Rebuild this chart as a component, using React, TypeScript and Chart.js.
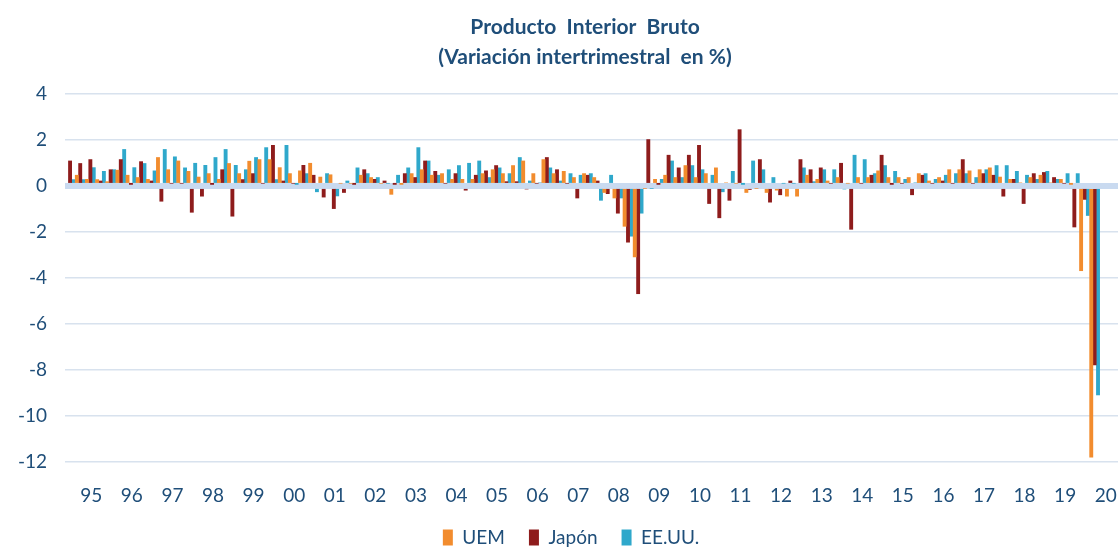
import React, { useEffect, useRef } from 'react';
import { Chart, registerables } from 'chart.js';

Chart.register(...registerables);

const years = ['95','96','97','98','99','00','01','02','03','04','05','06','07','08','09','10','11','12','13','14','15','16','17','18','19','20'];
const quarterNames = ['T1','T2','T3','T4'];

const uem = [
  null, 0.48, 0.3, 0.29,
  0.2, 0.7, 0.48, 0.38,
  0.3, 1.25, 0.72, 1.1,
  0.65, 0.4, 0.55, 0.3,
  0.99, 0.55, 1.09, 1.16,
  1.16, 0.81, 0.55, 0.67,
  1.0, 0.4, 0.5, 0.1,
  0.1, 0.48, 0.38, 0.1,
  -0.38, 0.05, 0.55, 0.72,
  0.48, 0.55, 0.3, 0.3,
  0.3, 0.55, 0.72, 0.55,
  0.9, 1.1, 0.55, 1.16,
  0.55, 0.65, 0.38, 0.55,
  0.38, -0.3, -0.54, -1.77,
  -3.1, -0.1, 0.3, 0.48,
  0.38, 0.9, 0.38, 0.55,
  0.8, 0.15, 0.1, -0.3,
  -0.1, -0.3, -0.2, -0.46,
  -0.46, 0.48, 0.3, 0.23,
  0.38, 0.1, 0.38, 0.38,
  0.67, 0.38, 0.38, 0.38,
  0.55, 0.23, 0.38, 0.72,
  0.72, 0.67, 0.72, 0.8,
  0.4, 0.3, 0.15, 0.38,
  0.48, 0.15, 0.3, 0.05,
  -3.7, -11.8,
];

const japon = [
  1.1, 0.99, 1.16, 0.23,
  0.72, 1.16, 0.05, 1.07,
  0.23, -0.68, 0.1, 0.1,
  -1.16, -0.46, 0.05, 0.72,
  -1.33, 0.29, 0.55, 0.1,
  1.78, 0.23, 0.1, 0.91,
  0.48, -0.5, -1.0, -0.3,
  0.05, 0.72, 0.3, 0.23,
  0.05, 0.55, 0.38, 1.1,
  0.65, 0.1, 0.55, -0.2,
  0.48, 0.67, 0.9, 0.2,
  0.2, -0.15, 0.1, 1.25,
  0.72, 0.1, -0.54, 0.48,
  0.23, -0.35, -1.2, -2.46,
  -4.7, 2.03, 0.05, 1.35,
  0.8, 1.35, 1.78, -0.78,
  -1.4, -0.64, 2.46, -0.17,
  1.16, -0.72, -0.4, 0.23,
  1.16, 0.72, 0.8, 0.1,
  1.0, -1.9, 0.1, 0.48,
  1.35, 0.05, 0.1, -0.4,
  0.48, 0.1, 0.23, 0.1,
  1.16, 0.1, 0.55, 0.48,
  -0.46, 0.3, -0.78, 0.55,
  0.6, 0.38, 0.1, -1.8,
  -0.6, -7.8,
];

const eeuu = [
  0.29, 0.29, 0.81, 0.65,
  0.72, 1.6, 0.81, 0.99,
  0.67, 1.6, 1.28, 0.8,
  1.0, 0.91, 1.25, 1.6,
  0.91, 0.72, 1.25, 1.68,
  0.29, 1.78, 0.05, 0.55,
  -0.27, 0.55, -0.45, 0.23,
  0.8, 0.55, 0.38, 0.1,
  0.48, 0.8, 1.68, 1.1,
  0.48, 0.72, 0.9, 1.0,
  1.1, 0.38, 0.8, 0.55,
  1.25, 0.23, 0.15, 0.8,
  0.23, 0.55, 0.48, 0.55,
  -0.64, 0.48, -0.54, -2.2,
  -1.2, -0.1, 0.3, 1.1,
  0.38, 0.9, 0.72, 0.48,
  -0.27, 0.65, 0.05, 1.1,
  0.72, 0.38, 0.1, 0.1,
  0.8, 0.2, 0.72, 0.72,
  -0.15, 1.35, 1.16, 0.55,
  0.9, 0.65, 0.3, 0.15,
  0.55, 0.3, 0.48, 0.55,
  0.55, 0.38, 0.72, 0.9,
  0.9, 0.65, 0.48, 0.3,
  0.65, 0.3, 0.55, 0.55,
  -1.3, -9.1,
];

const seriesNames = ['UEM', 'Japón', 'EE.UU.'];
const seriesColors = ['#F28C2E', '#8E1C1C', '#2FA8CB'];
const titleLines = ['Producto  Interior  Bruto', '(Variación intertrimestral  en %)'];
const yMin = -12;
const yMax = 4;
const yStep = 2;

const textColor = '#1F4E79';
const fontFamily = 'Lato, "Open Sans", sans-serif';

const legendShift = {
  id: 'legendShift',
  afterLayout(chart: any) {
    const l = chart.legend;
    if (l) {
      l.left -= 14;
      l.right -= 14;
    }
  },
};

export default function App() {
  const canvasRef = useRef<HTMLCanvasElement | null>(null);

  useEffect(() => {
    const canvas = canvasRef.current;
    if (!canvas) return;
    const quarters = years.flatMap((y) => quarterNames.map((q) => `${y} ${q}`));
    const chart = new Chart(canvas, {
      type: 'bar',
      data: {
        labels: quarters,
        datasets: [
          { label: seriesNames[0], data: uem, backgroundColor: seriesColors[0], xAxisID: 'x', yAxisID: 'y' },
          { label: seriesNames[1], data: japon, backgroundColor: seriesColors[1], xAxisID: 'x', yAxisID: 'y' },
          { label: seriesNames[2], data: eeuu, backgroundColor: seriesColors[2], xAxisID: 'x', yAxisID: 'y' },
        ],
      },
      plugins: [legendShift],
      options: {
        responsive: false,
        animation: false,
        datasets: {
          bar: { categoryPercentage: 1.0, barPercentage: 1.15, borderWidth: 0 },
        },
        layout: { padding: 0 },
        plugins: {
          title: {
            display: true,
            text: titleLines,
            color: textColor,
            font: { family: fontFamily, size: 21, weight: 'bold', lineHeight: 1.45 },
            padding: { top: 12, bottom: 21 },
          },
          legend: {
            display: true,
            position: 'bottom',
            labels: {
              color: textColor,
              font: { family: fontFamily, size: 19 },
              boxWidth: 10,
              boxHeight: 16,
              padding: 24,
            },
          },
          tooltip: { enabled: false },
        },
        scales: {
          x: {
            type: 'category',
            display: false,
            offset: true,
          },
          years: {
            type: 'category',
            labels: years,
            position: 'bottom',
            offset: true,
            grid: { display: false, drawTicks: true, tickLength: 26 },
            border: { display: false },
            ticks: {
              color: textColor,
              font: { family: fontFamily, size: 19 },
              autoSkip: false,
              maxRotation: 0,
              padding: -3.4,
              labelOffset: 6,
            },
          },
          y: {
            type: 'linear',
            position: 'left',
            min: yMin,
            max: yMax,
            afterFit: (s: any) => { s.width = 65; },
            grid: {
              drawTicks: false,
              color: (ctx: any) => (ctx.tick && ctx.tick.value === 0 ? '#C9DAF0' : '#D8E2EE'),
              lineWidth: (ctx: any) => (ctx.tick && ctx.tick.value === 0 ? 6 : 1.5),
            },
            border: { display: false },
            ticks: {
              stepSize: yStep,
              color: textColor,
              font: { family: fontFamily, size: 19 },
              padding: 18,
            },
          },
          yRight: {
            type: 'linear',
            position: 'right',
            display: true,
            afterFit: (s: any) => { s.width = 50; },
            grid: { display: false, drawTicks: false },
            border: { display: false },
            ticks: { display: false },
          },
        },
      } as any,
    });
    return () => chart.destroy();
  }, []);

  return (
    <div style={{ position: 'fixed', left: 0, top: 0, width: 1118, height: 547, overflow: 'hidden', background: '#fff' }}>
      <canvas ref={canvasRef} width={1170} height={557} style={{ width: 1170, height: 557, display: 'block' }} />
    </div>
  );
}
